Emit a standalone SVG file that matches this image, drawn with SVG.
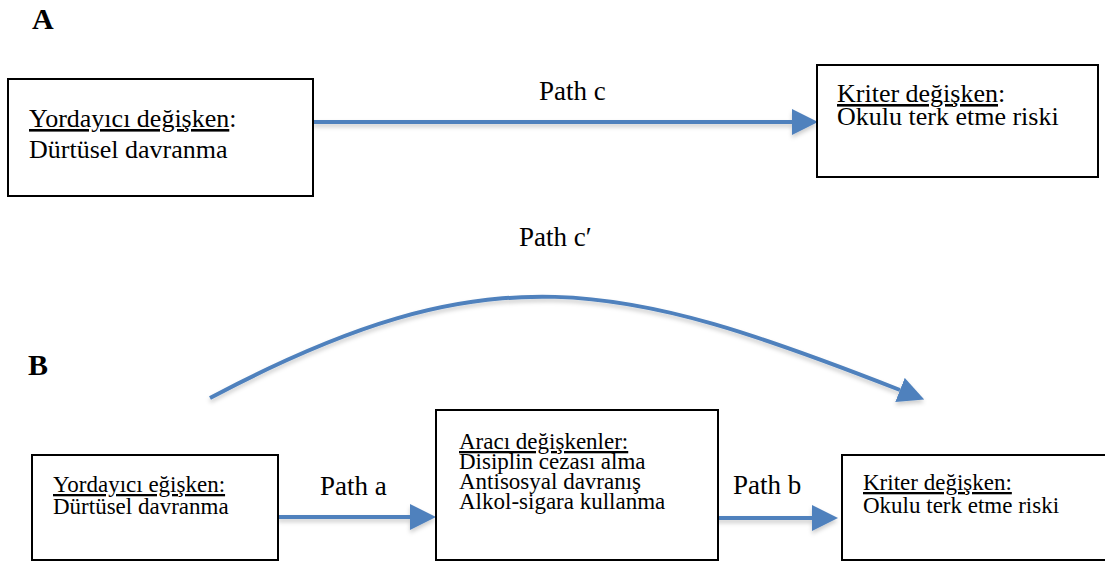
<svg xmlns="http://www.w3.org/2000/svg" width="1105" height="562" viewBox="0 0 1105 562">
<style>
.box{fill:#fff;stroke:#000;stroke-width:2}
.t{font-family:"Liberation Serif","Times New Roman",serif;fill:#000}
.a{font-size:26px}
.b{font-size:23px}
.lbl{font-family:"Liberation Serif","Times New Roman",serif;font-size:27px;fill:#000}
.hd{font-family:"Liberation Serif","Times New Roman",serif;font-size:30px;font-weight:bold;fill:#000}
.u{text-decoration:underline}
.con{fill:none;stroke:#4F81BD;stroke-width:4;filter:url(#sh)}
</style>
<defs>
<filter id="sh" filterUnits="userSpaceOnUse" x="0" y="0" width="1105" height="562">
<feDropShadow dx="0" dy="3" stdDeviation="2" flood-color="#000" flood-opacity="0.2"/>
</filter>
<marker id="ah" markerUnits="userSpaceOnUse" markerWidth="26" markerHeight="26" viewBox="0 0 26 26" refX="0" refY="13" orient="auto">
<path d="M0,0 L26,13 L0,26 z" fill="#4F81BD"/>
</marker>
</defs>
<text class="hd" x="32" y="29">A</text>
<text class="hd" x="28" y="375">B</text>
<g id="connectors">
<path class="con" d="M313,122 L792,122" marker-end="url(#ah)"/>
<path class="con" d="M278,517 L410,517" marker-end="url(#ah)"/>
<path class="con" d="M713,518 L812,518" marker-end="url(#ah)"/>
<path class="con" d="M210,398 C491,249 619,280 900,390" marker-end="url(#ah)"/>
<text class="lbl" x="539" y="100">Path c</text>
<text class="lbl" x="519" y="246">Path c′</text>
<text class="lbl" x="320" y="495">Path a</text>
<text class="lbl" x="733" y="494">Path b</text>
</g>
<g id="a-predictor">
<rect class="box" x="8" y="79" width="305" height="117"/>
<text class="t a" x="29" y="127"><tspan class="u">Yordayıcı değişken</tspan>:</text>
<text class="t a" x="29" y="158">Dürtüsel davranma</text>
</g>
<g id="a-criterion">
<rect class="box" x="817" y="65" width="281" height="112"/>
<text class="t a" x="837" y="102"><tspan class="u">Kriter değişken</tspan>:</text>
<text class="t a" x="837" y="125">Okulu terk etme riski</text>
</g>
<g id="b-predictor">
<rect class="box" x="32" y="455" width="246" height="105"/>
<text class="t b" x="53" y="492"><tspan class="u">Yordayıcı eğişken:</tspan></text>
<text class="t b" x="53" y="514">Dürtüsel davranma</text>
</g>
<g id="b-mediator">
<rect class="box" x="436" y="410" width="282" height="150"/>
<text class="t b" x="459" y="449"><tspan class="u">Aracı değişkenler:</tspan></text>
<text class="t b" x="459" y="469">Disiplin cezası alma</text>
<text class="t b" x="459" y="489">Antisosyal davranış</text>
<text class="t b" x="459" y="509">Alkol-sigara kullanma</text>
</g>
<g id="b-criterion">
<rect class="box" x="842" y="455" width="270" height="105"/>
<text class="t b" x="863" y="490"><tspan class="u">Kriter değişken:</tspan></text>
<text class="t b" x="863" y="513">Okulu terk etme riski</text>
</g>
</svg>
